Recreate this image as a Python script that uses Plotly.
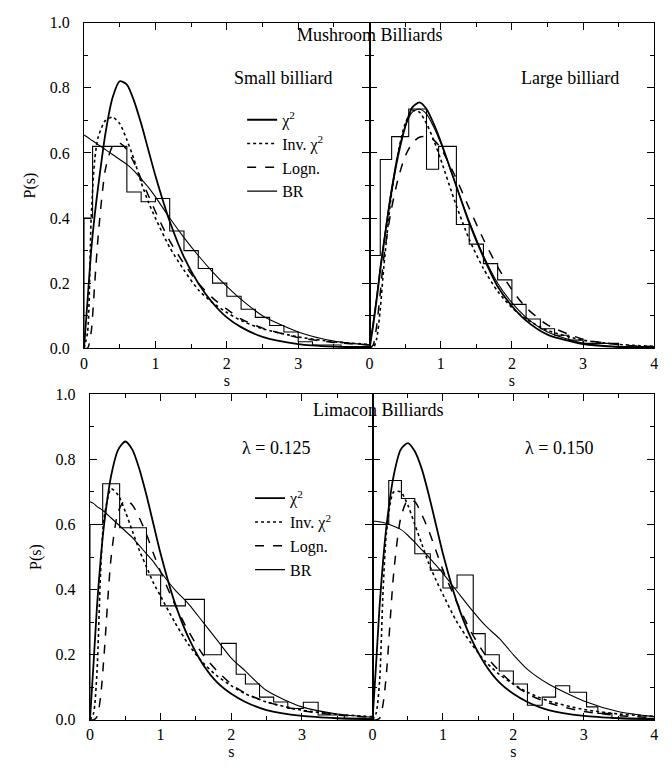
import plotly.graph_objects as go

# ---------------- data ----------------
S_GRID = [0, 0.05, 0.1, 0.15, 0.2, 0.3, 0.4, 0.5, 0.6, 0.7, 0.8, 0.9, 1.0,
          1.2, 1.4, 1.6, 1.8, 2.0, 2.2, 2.5, 3.0, 3.5, 4.0]

# Mushroom, small billiard
small_chi2 = [0, 0.15, 0.30, 0.41, 0.50, 0.66, 0.77, 0.82, 0.81, 0.76, 0.69, 0.61, 0.53,
              0.39, 0.28, 0.20, 0.14, 0.095, 0.065, 0.035, 0.013, 0.005, 0.002]
small_inv = [0, 0.05, 0.40, 0.58, 0.65, 0.70, 0.71, 0.69, 0.64, 0.58, 0.51, 0.45, 0.40,
             0.31, 0.24, 0.18, 0.14, 0.11, 0.085, 0.06, 0.035, 0.02, 0.012]
small_logn = [0, 0.0, 0.05, 0.20, 0.35, 0.55, 0.62, 0.63, 0.61, 0.57, 0.52, 0.47, 0.42,
              0.33, 0.26, 0.20, 0.155, 0.12, 0.09, 0.062, 0.033, 0.018, 0.01]
small_br = [0.655, 0.648, 0.64, 0.633, 0.625, 0.61, 0.595, 0.58, 0.565, 0.545, 0.52, 0.495, 0.465,
            0.40, 0.34, 0.285, 0.235, 0.19, 0.15, 0.10, 0.05, 0.022, 0.01]
small_edges = [0, 0.12, 0.6, 0.8, 1.0, 1.2, 1.4, 1.6, 1.8, 2.0, 2.2, 2.4, 2.6, 2.8, 3.0, 3.2, 3.6, 4.0]
small_hist = [0.40, 0.62, 0.48, 0.45, 0.46, 0.36, 0.30, 0.245, 0.20, 0.16, 0.12, 0.095, 0.07,
              0.05, 0.02, 0.01, 0.005]

# Mushroom, large billiard
large_chi2 = [0, 0.07, 0.15, 0.24, 0.32, 0.47, 0.59, 0.68, 0.74, 0.755, 0.735, 0.69, 0.635,
              0.51, 0.385, 0.28, 0.19, 0.13, 0.085, 0.042, 0.013, 0.004, 0.001]
large_inv = [0, 0, 0.03, 0.12, 0.25, 0.46, 0.60, 0.69, 0.73, 0.725, 0.69, 0.64, 0.58,
             0.45, 0.335, 0.245, 0.175, 0.125, 0.09, 0.055, 0.025, 0.012, 0.006]
large_logn = [0, 0.01, 0.07, 0.17, 0.28, 0.42, 0.52, 0.59, 0.63, 0.648, 0.65, 0.64, 0.615,
              0.53, 0.43, 0.335, 0.25, 0.18, 0.125, 0.072, 0.028, 0.011, 0.005]
large_br = [0.0, 0.08, 0.16, 0.25, 0.33, 0.48, 0.60, 0.68, 0.725, 0.735, 0.72, 0.68, 0.63,
            0.51, 0.39, 0.285, 0.20, 0.14, 0.095, 0.05, 0.016, 0.005, 0.002]
large_edges = [0, 0.15, 0.31, 0.55, 0.8, 0.97, 1.22, 1.4, 1.6, 1.8, 2.0, 2.2, 2.4, 2.6, 2.8, 3.0, 3.5, 4.0]
large_hist = [0.285, 0.58, 0.65, 0.735, 0.55, 0.62, 0.38, 0.32, 0.26, 0.21, 0.135, 0.09, 0.06,
              0.04, 0.025, 0.015, 0.005]

# Limacon, lambda = 0.125
l125_chi2 = [0, 0.17, 0.35, 0.49, 0.60, 0.75, 0.83, 0.855, 0.83, 0.77, 0.69, 0.60, 0.51,
             0.36, 0.25, 0.17, 0.115, 0.08, 0.055, 0.03, 0.012, 0.005, 0.002]
l125_inv = [0, 0.02, 0.15, 0.45, 0.62, 0.71, 0.69, 0.64, 0.58, 0.52, 0.47, 0.42, 0.38,
            0.30, 0.23, 0.175, 0.135, 0.105, 0.08, 0.055, 0.03, 0.017, 0.01]
l125_logn = [0, 0, 0.01, 0.07, 0.20, 0.50, 0.64, 0.675, 0.66, 0.62, 0.57, 0.51, 0.455,
             0.355, 0.27, 0.20, 0.15, 0.11, 0.082, 0.055, 0.028, 0.015, 0.008]
l125_br = [0.67, 0.665, 0.655, 0.648, 0.64, 0.62, 0.60, 0.58, 0.56, 0.535, 0.51, 0.485, 0.455,
           0.40, 0.355, 0.30, 0.245, 0.19, 0.15, 0.09, 0.04, 0.018, 0.008]
l125_edges = [0, 0.18, 0.42, 0.8, 1.0, 1.35, 1.62, 1.86, 2.07, 2.2, 2.4, 2.6, 2.8, 3.02, 3.23, 3.6, 4.0]
l125_hist = [0.60, 0.725, 0.59, 0.445, 0.35, 0.37, 0.20, 0.235, 0.14, 0.11, 0.07, 0.055, 0.035,
             0.054, 0.015, 0.005]

# Limacon, lambda = 0.150
l150_chi2 = [0, 0.17, 0.35, 0.49, 0.60, 0.75, 0.83, 0.85, 0.825, 0.77, 0.69, 0.60, 0.51,
             0.36, 0.25, 0.17, 0.115, 0.08, 0.055, 0.03, 0.012, 0.005, 0.002]
l150_inv = [0, 0.02, 0.12, 0.40, 0.58, 0.70, 0.70, 0.66, 0.60, 0.54, 0.48, 0.43, 0.385,
            0.30, 0.235, 0.18, 0.14, 0.11, 0.085, 0.058, 0.032, 0.018, 0.011]
l150_logn = [0, 0, 0.005, 0.05, 0.15, 0.45, 0.62, 0.675, 0.67, 0.63, 0.58, 0.52, 0.46,
             0.36, 0.27, 0.20, 0.15, 0.11, 0.08, 0.052, 0.026, 0.013, 0.007]
l150_br = [0.61, 0.61, 0.608, 0.606, 0.603, 0.595, 0.585, 0.567, 0.545, 0.522, 0.50, 0.475, 0.45,
           0.395, 0.34, 0.29, 0.25, 0.20, 0.155, 0.11, 0.058, 0.025, 0.01]
l150_edges = [0, 0.23, 0.41, 0.6, 0.82, 1.0, 1.2, 1.43, 1.6, 1.8, 2.0, 2.2, 2.41, 2.6, 2.8, 3.04, 3.2, 3.4, 4.0]
l150_hist = [0.60, 0.735, 0.68, 0.51, 0.46, 0.405, 0.445, 0.265, 0.20, 0.15, 0.11, 0.045, 0.07,
             0.105, 0.085, 0.04, 0.02, 0.005]

X_TICKS_LEFT = [0, 1, 2, 3]
X_TICKS_RIGHT = [0, 1, 2, 3, 4]
Y_TICKS = [0.0, 0.2, 0.4, 0.6, 0.8, 1.0]
LEGEND_NAMES = ["χ<sup>2</sup>", "Inv. χ<sup>2</sup>", "Logn.", "BR"]

FONT = "Times New Roman"
W, H = 672, 768

panels = [
    dict(xa="x", ya="y", chi2=small_chi2, inv=small_inv, logn=small_logn, br=small_br,
         edges=small_edges, hist=small_hist, legend="legend", show=True),
    dict(xa="x2", ya="y2", chi2=large_chi2, inv=large_inv, logn=large_logn, br=large_br,
         edges=large_edges, hist=large_hist, legend="legend", show=False),
    dict(xa="x3", ya="y3", chi2=l125_chi2, inv=l125_inv, logn=l125_logn, br=l125_br,
         edges=l125_edges, hist=l125_hist, legend="legend2", show=True),
    dict(xa="x4", ya="y4", chi2=l150_chi2, inv=l150_inv, logn=l150_logn, br=l150_br,
         edges=l150_edges, hist=l150_hist, legend="legend2", show=False),
]

styles = [
    ("chi2", dict(color="black", width=1.8, dash="solid")),
    ("inv", dict(color="black", width=1.6, dash="dot")),
    ("logn", dict(color="black", width=1.5, dash="dash")),
    ("br", dict(color="black", width=1.1, dash="solid")),
]

fig = go.Figure()
for p in panels:
    hx = [0] + list(p["edges"])
    hy = [0] + list(p["hist"]) + [p["hist"][-1]]
    fig.add_trace(go.Scatter(x=hx, y=hy, mode="lines", line=dict(color="black", width=1.1, shape="hv"),
                             xaxis=p["xa"], yaxis=p["ya"], showlegend=False, hoverinfo="skip"))
    for (key, st), name in zip(styles, LEGEND_NAMES):
        fig.add_trace(go.Scatter(x=S_GRID, y=p[key], mode="lines", name=name,
                                 line=dict(shape="spline", smoothing=0.7, **st),
                                 xaxis=p["xa"], yaxis=p["ya"], showlegend=p["show"],
                                 legend=p["legend"]))


def px_x(v):
    return v / W


def px_y(v):
    return 1 - v / H


tick_font = dict(family=FONT, size=16, color="black")
title_font = dict(family=FONT, size=16, color="black")


def xaxis(dom, vals, anchor):
    return dict(domain=dom, range=[0, 4], anchor=anchor, tickmode="array", tickvals=vals,
                ticks="inside", ticklen=7, tickwidth=1.2, tickcolor="black",
                showline=True, linecolor="black", linewidth=1.3, mirror="ticks",
                showgrid=False, zeroline=False, tickfont=tick_font,
                minor=dict(tickmode="linear", tick0=0, dtick=0.5, ticks="inside", ticklen=4,
                           tickcolor="black", showgrid=False),
                title=dict(text="s", font=title_font, standoff=0))


def yaxis(dom, anchor, labels):
    d = dict(domain=dom, range=[0, 1.0], anchor=anchor, tickmode="array", tickvals=Y_TICKS,
             tickformat=".1f", showticklabels=labels,
             ticks="inside", ticklen=7, tickwidth=1.2, tickcolor="black",
             showline=True, linecolor="black", linewidth=1.3, mirror="ticks",
             showgrid=False, zeroline=False, tickfont=tick_font,
             minor=dict(tickmode="linear", tick0=0, dtick=0.1, ticks="inside", ticklen=4,
                        tickcolor="black", showgrid=False))
    if labels:
        d["ticklabelstandoff"] = 10
        d["title"] = dict(text="P(s)", font=title_font, standoff=10)
    return d


top_y = [px_y(348), px_y(15)]
bot_y = [px_y(728), px_y(395)]
leg_font = dict(family=FONT, size=16, color="black")
fig.update_layout(
    width=W, height=H, margin=dict(l=0, r=0, t=0, b=0),
    paper_bgcolor="white", plot_bgcolor="white",
    font=dict(family=FONT, color="black"),
    xaxis=xaxis([px_x(81), px_x(370)], X_TICKS_LEFT, "y"),
    xaxis2=xaxis([px_x(370), px_x(658)], X_TICKS_RIGHT, "y2"),
    xaxis3=xaxis([px_x(87), px_x(373)], X_TICKS_LEFT, "y3"),
    xaxis4=xaxis([px_x(373), px_x(658)], X_TICKS_RIGHT, "y4"),
    yaxis=yaxis(top_y, "x", True),
    yaxis2=yaxis(top_y, "x2", False),
    yaxis3=yaxis(bot_y, "x3", True),
    yaxis4=yaxis(bot_y, "x4", False),
    legend=dict(x=px_x(241), y=px_y(97), xanchor="left", yanchor="top",
                bgcolor="rgba(0,0,0,0)", font=leg_font, tracegroupgap=0, itemclick=False),
    legend2=dict(x=px_x(249), y=px_y(484), xanchor="left", yanchor="top",
                 bgcolor="rgba(0,0,0,0)", font=leg_font, tracegroupgap=0, itemclick=False),
    showlegend=True,
)

ann_font = dict(family=FONT, size=18, color="black")
annotations = [
    ("Mushroom Billiards", 370, 28),
    ("Small billiard", 283, 72),
    ("Large billiard", 573, 72),
    ("Limacon Billiards", 378, 411),
    ("λ = 0.125", 275, 450),
    ("λ = 0.150", 562, 450),
]
for text, ax, ay in annotations:
    fig.add_annotation(text=text, x=px_x(ax), y=px_y(ay), xref="paper", yref="paper",
                       showarrow=False, font=ann_font, xanchor="center", yanchor="middle")

fig.write_html("out.html", config={"displayModeBar": False},
               post_script="document.body.style.margin='0';document.body.style.overflow='hidden';")
